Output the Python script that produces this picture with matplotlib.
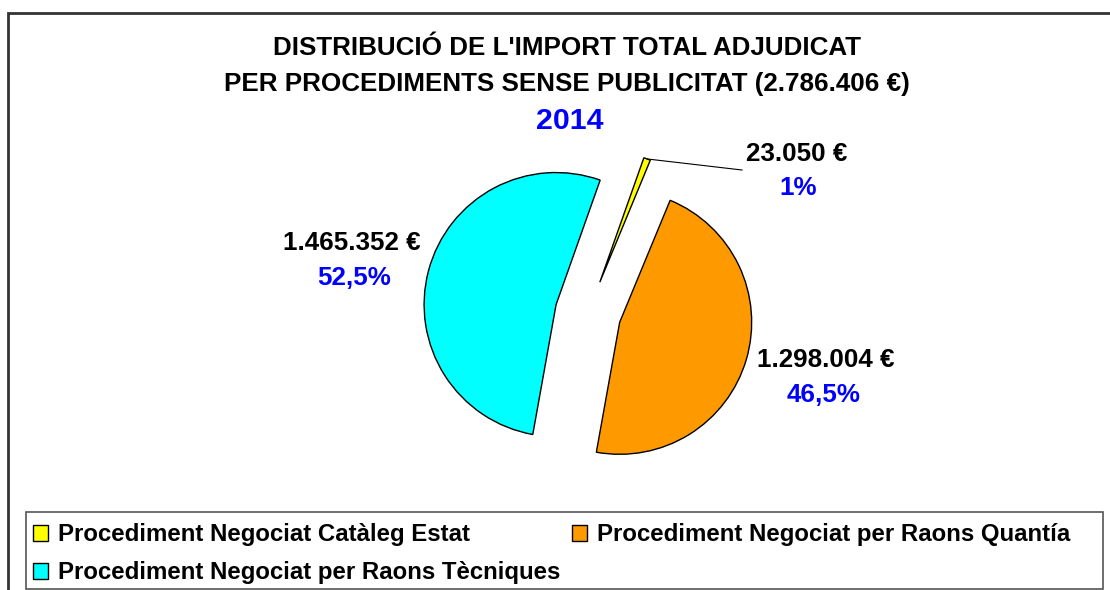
import numpy as np
import matplotlib.pyplot as plt
from matplotlib.patches import Rectangle

plt.rcParams['font.family'] = ['Liberation Sans', 'DejaVu Sans']
plt.rcParams['font.weight'] = 'bold'

categories = ['Procediment Negociat Catàleg Estat',
              'Procediment Negociat per Raons Quantía',
              'Procediment Negociat per Raons Tècniques']
imports = [23050, 1298004, 1465352]
import_labels = ['23.050 €', '1.298.004 €', '1.465.352 €']
pct_labels = ['1%', '46,5%', '52,5%']
colors = ['#FFFF00', '#FF9900', '#00FFFF']

W, H = 1110, 590
fig = plt.figure(figsize=(W / 100, H / 100), dpi=100)
ax = fig.add_axes([0, 0, 1, 1])

def Y(y):
    # pixel row (from top) -> data y
    return H - y

R = 132
wedges, _ = ax.pie(imports, colors=colors, explode=[0.25 * R] * 3,
                   startangle=70.5, counterclock=False, radius=R,
                   center=(588, Y(313)),
                   wedgeprops=dict(edgecolor='black', linewidth=1.0))
ax.set_xlim(0, W)
ax.set_ylim(0, H)
ax.set_aspect('equal')
ax.axis('off')

# outer frame and legend frame
ax.add_patch(Rectangle((8, Y(600)), 1110, 600 - 13, fill=False,
                       edgecolor='#333333', linewidth=2, zorder=0))
ax.add_patch(Rectangle((26, Y(589)), 1103 - 26, 589 - 512, fill=False,
                       edgecolor='#555555', linewidth=1.2, zorder=0))

# titles
ax.text(567, Y(48), "DISTRIBUCIÓ DE L'IMPORT TOTAL ADJUDICAT", ha='center', va='center',
        fontsize=18.7, fontweight='bold')
ax.text(567, Y(84), "PER PROCEDIMENTS SENSE PUBLICITAT (2.786.406 €)", ha='center', va='center',
        fontsize=18.7, fontweight='bold')
ax.text(570, Y(121), "2014", ha='center', va='center', fontsize=21.8, fontweight='bold', color='#0000FF')

# value labels
label_pos = [(797, 154, 798, 188), (826, 360, 824, 395), (352, 243, 354, 278)]
for (x1, y1, x2, y2), lab, pct in zip(label_pos, import_labels, pct_labels):
    ax.text(x1, Y(y1), lab, ha='center', va='center', fontsize=18.7, fontweight='bold')
    ax.text(x2, Y(y2), pct, ha='center', va='center', fontsize=18.7, fontweight='bold', color='#0000FF')

# leader line for the small slice
w = wedges[0]
tm = np.deg2rad((w.theta1 + w.theta2) / 2)
cx, cy = w.center
ax.plot([cx + R * np.cos(tm), 742], [cy + R * np.sin(tm), Y(170)], color='black', linewidth=0.8)

# legend: column order so that row 1 = yellow, orange; row 2 = cyan
order = [0, 2, 1]
leg = ax.legend([wedges[i] for i in order], [categories[i] for i in order],
                ncol=2, loc='upper left', bbox_to_anchor=(31 / W, 1 - 521 / H),
                frameon=False, fontsize=17.3, handlelength=0.62, handleheight=0.62,
                handletextpad=0.4, columnspacing=0.5, labelspacing=0.62,
                borderpad=0.1, borderaxespad=0)
for t in leg.get_texts():
    t.set_fontweight('bold')

fig.savefig('out.png', dpi=100)
